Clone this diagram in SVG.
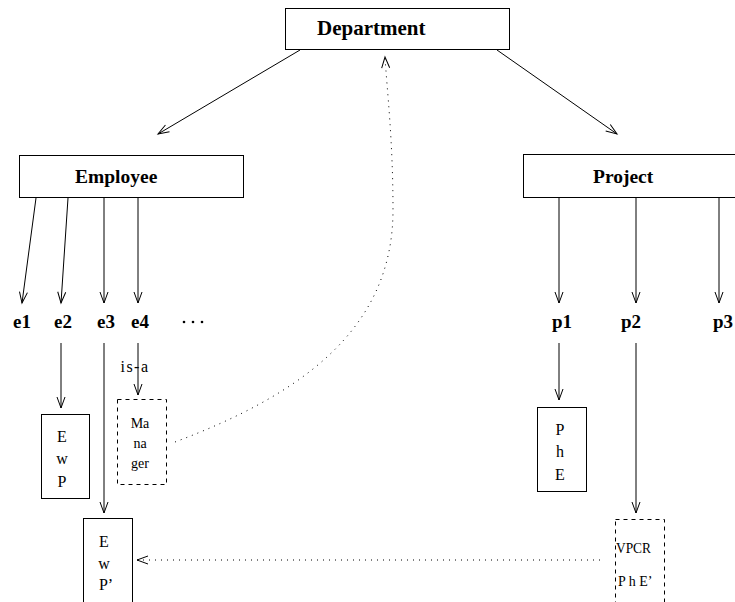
<svg xmlns="http://www.w3.org/2000/svg" width="735" height="602" viewBox="0 0 735 602">
  <style>
    .box { fill: #fff; stroke: #000; stroke-width: 1; }
    .dbox { fill: #fff; stroke: #000; stroke-width: 1; stroke-dasharray: 4 4; }
    .edge { fill: none; stroke: #000; stroke-width: 1; }
    .dot { fill: none; stroke: #000; stroke-width: 1; stroke-dasharray: 1 5; }
    .title { font-family: "Liberation Serif", serif; font-weight: bold; font-size: 19.5px; }
    .lbl { font-family: "Liberation Serif", serif; font-weight: bold; font-size: 19px; }
    .sm { font-family: "Liberation Serif", serif; font-size: 16px; text-anchor: middle; }
    .xs { font-family: "Liberation Serif", serif; font-size: 14px; }
  </style>
  <defs>
    <marker id="arr" markerUnits="userSpaceOnUse" markerWidth="14" markerHeight="10" refX="11" refY="4" orient="auto" overflow="visible">
      <path d="M0,0 L11,4 L0,8" fill="none" stroke="#000" stroke-width="1" stroke-dasharray="none"/>
    </marker>
  </defs>

  <!-- top level -->
  <g id="department">
    <rect class="box" x="285.5" y="8.5" width="224" height="41"/>
    <text class="title" x="317" y="35" style="font-size:21px">Department</text>
  </g>
  <g id="employee">
    <rect class="box" x="19.5" y="155.5" width="224" height="42"/>
    <text class="title" x="75" y="183">Employee</text>
  </g>
  <g id="project">
    <rect class="box" x="523.5" y="154.5" width="224" height="43"/>
    <text class="title" x="593" y="183">Project</text>
  </g>

  <!-- instance labels -->
  <g id="e1"><text class="lbl" x="13" y="328">e1</text></g>
  <g id="e2"><text class="lbl" x="54" y="328">e2</text></g>
  <g id="e3"><text class="lbl" x="97" y="328">e3</text></g>
  <g id="e4"><text class="lbl" x="131" y="328">e4</text></g>
  <g id="more">
    <circle cx="184" cy="322" r="1.3"/>
    <circle cx="193" cy="322" r="1.3"/>
    <circle cx="202" cy="322" r="1.3"/>
  </g>
  <g id="p1"><text class="lbl" x="552" y="328">p1</text></g>
  <g id="p2"><text class="lbl" x="621" y="328">p2</text></g>
  <g id="p3"><text class="lbl" x="713" y="328">p3</text></g>

  <!-- lower boxes -->
  <g id="ewp">
    <rect class="box" x="41.5" y="414.5" width="48" height="84"/>
    <text class="sm" x="62" y="442">E</text>
    <text class="sm" x="62" y="464">w</text>
    <text class="sm" x="62" y="487">P</text>
  </g>
  <g id="ewp2">
    <rect class="box" x="83.5" y="518.5" width="49" height="90"/>
    <text class="sm" x="104" y="547">E</text>
    <text class="sm" x="104" y="569">w</text>
    <text class="sm" x="106" y="590">P’</text>
  </g>
  <g id="manager">
    <rect class="dbox" x="117.5" y="399.5" width="49" height="85"/>
    <text class="xs" x="140" y="428" text-anchor="middle">Ma</text>
    <text class="xs" x="140" y="448" text-anchor="middle">na</text>
    <text class="xs" x="140" y="468" text-anchor="middle">ger</text>
  </g>
  <g id="phe">
    <rect class="box" x="537.5" y="407.5" width="49" height="84"/>
    <text class="sm" x="560" y="435">P</text>
    <text class="sm" x="560" y="457">h</text>
    <text class="sm" x="560" y="480">E</text>
  </g>
  <g id="vpcr">
    <rect class="dbox" x="615.5" y="519.5" width="49" height="90"/>
    <text class="xs" x="616" y="553" textLength="35" lengthAdjust="spacingAndGlyphs">VPCR</text>
    <text class="xs" x="618" y="586">P h E’</text>
  </g>

  <!-- connectors -->
  <g id="connectors">
    <line class="edge" x1="300" y1="50" x2="158" y2="134" marker-end="url(#arr)"/>
    <line class="edge" x1="497" y1="50" x2="617" y2="134" marker-end="url(#arr)"/>

    <line class="edge" x1="36" y1="198" x2="22" y2="303" marker-end="url(#arr)"/>
    <line class="edge" x1="68" y1="198" x2="61" y2="303" marker-end="url(#arr)"/>
    <line class="edge" x1="104" y1="198" x2="104" y2="303" marker-end="url(#arr)"/>
    <line class="edge" x1="138" y1="198" x2="138" y2="303" marker-end="url(#arr)"/>

    <line class="edge" x1="559" y1="198" x2="559" y2="303" marker-end="url(#arr)"/>
    <line class="edge" x1="636" y1="198" x2="636" y2="303" marker-end="url(#arr)"/>
    <line class="edge" x1="719" y1="198" x2="719" y2="303" marker-end="url(#arr)"/>

    <line class="edge" x1="61" y1="343" x2="61" y2="408" marker-end="url(#arr)"/>
    <line class="edge" x1="104" y1="343" x2="104" y2="513" marker-end="url(#arr)"/>
    <line class="edge" x1="138" y1="343" x2="138" y2="395" marker-end="url(#arr)"/>
    <text class="sm" x="135" y="372" letter-spacing="1.5">is-a</text>

    <line class="edge" x1="559" y1="343" x2="559" y2="400" marker-end="url(#arr)"/>
    <line class="edge" x1="636" y1="343" x2="636" y2="513" marker-end="url(#arr)"/>

    <path class="dot" d="M175,442 C300,395 393,330 393,210 C393,140 387,90 385,57" marker-end="url(#arr)"/>
    <line class="dot" x1="600" y1="560" x2="137" y2="560" marker-end="url(#arr)"/>
  </g>
</svg>
